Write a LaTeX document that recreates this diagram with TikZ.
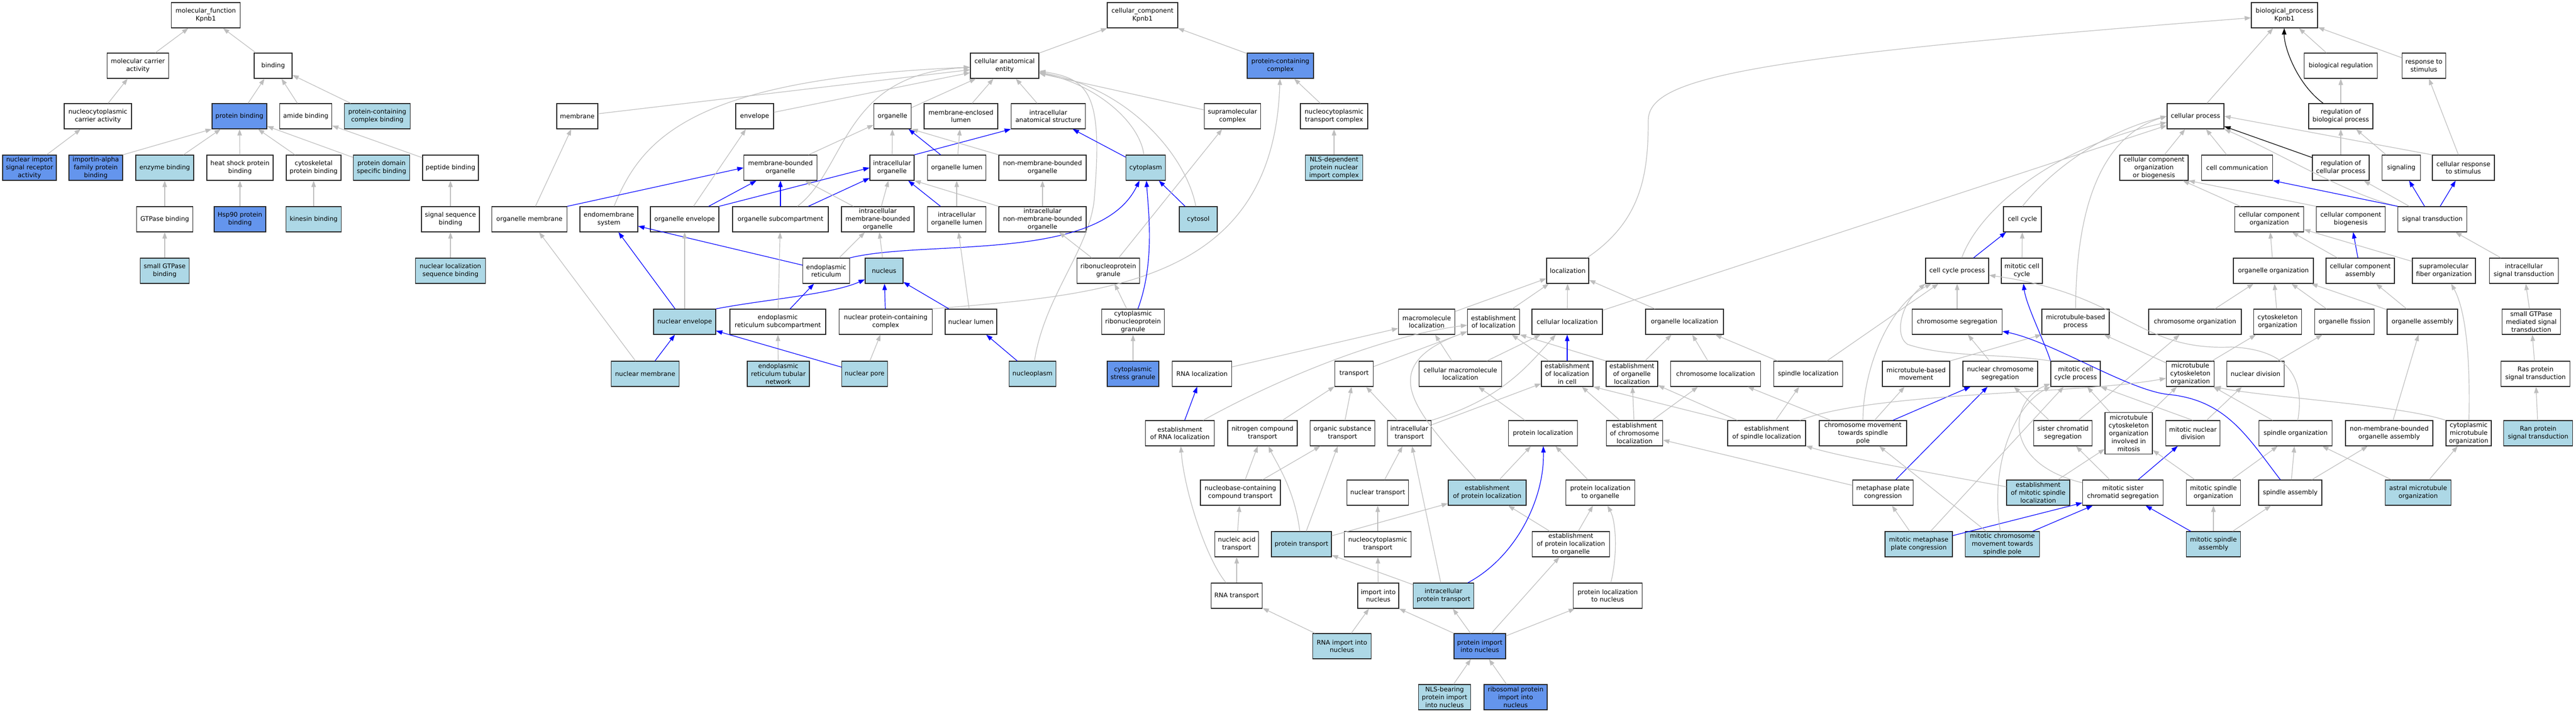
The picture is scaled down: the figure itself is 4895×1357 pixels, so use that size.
\documentclass[tikz,border=0pt]{standalone}
\usepackage{fontspec}
\usepackage{tikz}
\usetikzlibrary{arrows.meta}
\newfontfamily\termfam{DejaVu Sans}
\def\termfont{\termfam\fontsize{12}{14.8}\selectfont}
\definecolor{hitblue}{HTML}{ADD8E6}
\definecolor{seedblue}{HTML}{6495ED}
\definecolor{isagrey}{HTML}{BEBEBE}
\tikzset{
	goterm/.style={rectangle, draw=black!85, line width=1.2pt, fill=white, minimum height=48pt, inner sep=0pt, align=center, font=\termfont},
	hitterm/.style={goterm, fill=hitblue},
	seedterm/.style={goterm, fill=seedblue},
	isa/.style={draw=isagrey, line width=1.2pt, -{Triangle[length=12pt,width=8.5pt]}},
	partof/.style={isa, draw=blue},
	regby/.style={isa, draw=black}
}

\begin{document}
\begin{tikzpicture}[x=1pt, y=-1pt]
			%%%%% START %%%%%
			\useasboundingbox (0,0) rectangle (4895,1357);
			
			%%%%% molecular function
			\node[goterm, minimum width=131pt] (mf) at (391,29) {molecular\_function\\Kpnb1};
			\node[goterm, minimum width=117pt] (mca) at (262,125) {molecular carrier\\activity};
			\node[goterm, minimum width=72pt] (binding) at (519,125) {binding};
			\node[goterm, minimum width=128pt] (nca) at (186,221) {nucleocytoplasmic\\carrier activity};
			\node[seedterm, minimum width=104pt] (pb) at (455,221) {protein binding};
			\node[goterm, minimum width=99pt] (amideb) at (581,221) {amide binding};
			\node[hitterm, minimum width=125pt] (pccb) at (717,221) {protein-containing\\complex binding};
			\node[seedterm, minimum width=102pt] (nisra) at (56,319) {nuclear import\\signal receptor\\activity};
			\node[seedterm, minimum width=102pt] (iafpb) at (182,319) {importin-alpha\\family protein\\binding};
			\node[hitterm, minimum width=110pt] (enzb) at (313,319) {enzyme binding};
			\node[goterm, minimum width=126pt] (hspb) at (456,319) {heat shock protein\\binding};
			\node[goterm, minimum width=104pt] (cytskb) at (596,319) {cytoskeletal\\protein binding};
			\node[hitterm, minimum width=107pt] (pdsb) at (725,319) {protein domain\\specific binding};
			\node[goterm, minimum width=106pt] (peptb) at (856,319) {peptide binding};
			\node[goterm, minimum width=107pt] (gtpb) at (313,417) {GTPase binding};
			\node[seedterm, minimum width=98pt] (hsp90b) at (456,417) {Hsp90 protein\\binding};
			\node[hitterm, minimum width=105pt] (kinb) at (596,417) {kinesin binding};
			\node[goterm, minimum width=110pt] (ssb) at (856,417) {signal sequence\\binding};
			\node[hitterm, minimum width=93pt] (sgtpb) at (313,515) {small GTPase\\binding};
			\node[hitterm, minimum width=133pt] (nlsb) at (856,515) {nuclear localization\\sequence binding};
			
			%%%%% cellular component
			\node[goterm, minimum width=134pt] (cc) at (2171,29) {cellular\_component\\Kpnb1};
			\node[goterm, minimum width=130pt] (cae) at (1909,125) {cellular anatomical\\entity};
			\node[seedterm, minimum width=126pt] (pcc) at (2433,125) {protein-containing\\complex};
			\node[goterm, minimum width=78pt] (membrane) at (1097,221) {membrane};
			\node[goterm, minimum width=72pt] (envelope) at (1434,221) {envelope};
			\node[goterm, minimum width=71pt] (organelle) at (1696,221) {organelle};
			\node[goterm, minimum width=140pt] (mel) at (1826,221) {membrane-enclosed\\lumen};
			\node[goterm, minimum width=141pt] (ias) at (1992,221) {intracellular\\anatomical structure};
			\node[goterm, minimum width=107pt] (smc) at (2342,221) {supramolecular\\complex};
			\node[goterm, minimum width=128pt] (nctc) at (2535,221) {nucleocytoplasmic\\transport complex};
			\node[goterm, minimum width=139pt] (mbo) at (1483,319) {membrane-bounded\\organelle};
			\node[goterm, minimum width=84pt] (io) at (1695,319) {intracellular\\organelle};
			\node[goterm, minimum width=111pt] (ol) at (1818,319) {organelle lumen};
			\node[goterm, minimum width=166pt] (nmbo) at (1981,319) {non-membrane-bounded\\organelle};
			\node[hitterm, minimum width=75pt] (cytoplasm) at (2177,319) {cytoplasm};
			\node[hitterm, minimum width=109pt] (nlsc) at (2535,319) {NLS-dependent\\protein nuclear\\import complex};
			\node[goterm, minimum width=143pt] (om) at (1006,417) {organelle membrane};
			\node[goterm, minimum width=110pt] (ems) at (1157,417) {endomembrane\\system};
			\node[goterm, minimum width=130pt] (oe) at (1301,417) {organelle envelope};
			\node[goterm, minimum width=182pt] (osc) at (1483,417) {organelle subcompartment};
			\node[goterm, minimum width=138pt] (imbo) at (1668,417) {intracellular\\membrane-bounded\\organelle};
			\node[goterm, minimum width=111pt] (iol) at (1818,417) {intracellular\\organelle lumen};
			\node[goterm, minimum width=166pt] (inmbo) at (1981,417) {intracellular\\non-membrane-bounded\\organelle};
			\node[hitterm, minimum width=72pt] (cytosol) at (2277,417) {cytosol};
			\node[goterm, minimum width=89pt] (er) at (1570,515) {endoplasmic\\reticulum};
			\node[hitterm, minimum width=72pt] (nucleus) at (1680,515) {nucleus};
			\node[goterm, minimum width=119pt] (rnpg) at (2106,515) {ribonucleoprotein\\granule};
			\node[hitterm, minimum width=118pt] (ne) at (1301,612) {nuclear envelope};
			\node[goterm, minimum width=182pt] (ersc) at (1478,612) {endoplasmic\\reticulum subcompartment};
			\node[goterm, minimum width=177pt] (npcc) at (1683,612) {nuclear protein-containing\\complex};
			\node[goterm, minimum width=98pt] (nl) at (1845,612) {nuclear lumen};
			\node[goterm, minimum width=119pt] (crnpg) at (2153,612) {cytoplasmic\\ribonucleoprotein\\granule};
			\node[hitterm, minimum width=129pt] (nm) at (1226,711) {nuclear membrane};
			\node[hitterm, minimum width=118pt] (ertn) at (1479,711) {endoplasmic\\reticulum tubular\\network};
			\node[hitterm, minimum width=87pt] (np) at (1643,711) {nuclear pore};
			\node[hitterm, minimum width=89pt] (nucleoplasm) at (1962,711) {nucleoplasm};
			\node[seedterm, minimum width=98pt] (csg) at (2153,711) {cytoplasmic\\stress granule};
			
			%%%%% biological process
			\node[goterm, minimum width=126pt] (bp) at (4341,29) {biological\_process\\Kpnb1};
			\node[goterm, minimum width=139pt] (breg) at (4448,125) {biological regulation};
			\node[goterm, minimum width=83pt] (rts) at (4606,125) {response to\\stimulus};
			\node[goterm, minimum width=108pt] (cp) at (4172,221) {cellular process};
			\node[goterm, minimum width=122pt] (rbp) at (4448,221) {regulation of\\biological process};
			\node[goterm, minimum width=130pt] (ccob) at (4093,319) {cellular component\\organization\\or biogenesis};
			\node[goterm, minimum width=135pt] (ccomm) at (4251,319) {cell communication};
			\node[goterm, minimum width=108pt] (rcp) at (4448,319) {regulation of\\cellular process};
			\node[goterm, minimum width=73pt] (signaling) at (4563,319) {signaling};
			\node[goterm, minimum width=118pt] (crs) at (4681,319) {cellular response\\to stimulus};
			\node[goterm, minimum width=72pt] (cellcycle) at (3843,417) {cell cycle};
			\node[goterm, minimum width=131pt] (cco) at (4312,417) {cellular component\\organization};
			\node[goterm, minimum width=131pt] (ccb) at (4467,417) {cellular component\\biogenesis};
			\node[goterm, minimum width=131pt] (st) at (4622,417) {signal transduction};
			\node[goterm, minimum width=80pt] (localization) at (2979,515) {localization};
			\node[goterm, minimum width=120pt] (ccp) at (3719,515) {cell cycle process};
			\node[goterm, minimum width=78pt] (mcc) at (3842,515) {mitotic cell\\cycle};
			\node[goterm, minimum width=152pt] (oo) at (4320,515) {organelle organization};
			\node[goterm, minimum width=130pt] (cca) at (4485,515) {cellular component\\assembly};
			\node[goterm, minimum width=120pt] (sfo) at (4644,515) {supramolecular\\fiber organization};
			\node[goterm, minimum width=131pt] (ist) at (4796,515) {intracellular\\signal transduction};
			\node[goterm, minimum width=107pt] (ml) at (2711,612) {macromolecule\\localization};
			\node[goterm, minimum width=99pt] (eloc) at (2838,612) {establishment\\of localization};
			\node[goterm, minimum width=134pt] (cl) at (2978,612) {cellular localization};
			\node[goterm, minimum width=148pt] (orgloc) at (3201,612) {organelle localization};
			\node[goterm, minimum width=171pt] (cs) at (3719,612) {chromosome segregation};
			\node[goterm, minimum width=128pt] (mbp) at (3944,612) {microtubule-based\\process};
			\node[goterm, minimum width=176pt] (chro) at (4171,612) {chromosome organization};
			\node[goterm, minimum width=91pt] (cyto) at (4328,612) {cytoskeleton\\organization};
			\node[goterm, minimum width=113pt] (ofis) at (4455,612) {organelle fission};
			\node[goterm, minimum width=134pt] (oa) at (4603,612) {organelle assembly};
			\node[goterm, minimum width=111pt] (sgmst) at (4810,612) {small GTPase\\mediated signal\\transduction};
			
			\node[goterm, minimum width=113pt] (rnaloc) at (2284,711) {RNA localization};
			\node[goterm, minimum width=73pt] (transport) at (2573,711) {transport};
			\node[goterm, minimum width=157pt] (cml) at (2775,711) {cellular macromolecule\\localization};
			\node[goterm, minimum width=98pt] (elic) at (2978,711) {establishment\\of localization\\in cell};
			\node[goterm, minimum width=98pt] (eol) at (3101,711) {establishment\\of organelle\\localization};
			\node[goterm, minimum width=171pt] (chrloc) at (3260,711) {chromosome localization};
			\node[goterm, minimum width=131pt] (sploc) at (3436,711) {spindle localization};
			\node[goterm, minimum width=128pt] (mbm) at (3641,711) {microtubule-based\\movement};
			\node[goterm, minimum width=142pt] (ncs) at (3801,711) {nuclear chromosome\\segregation};
			\node[goterm, minimum width=94pt] (mccp) at (3944,711) {mitotic cell\\cycle process};
			\node[goterm, minimum width=91pt] (mco) at (4162,711) {microtubule\\cytoskeleton\\organization};
			\node[goterm, minimum width=109pt] (nd) at (4286,711) {nuclear division};
			\node[goterm, minimum width=131pt] (ras) at (4818,711) {Ras protein\\signal transduction};
			
			\node[goterm, minimum width=131pt] (erl) at (2242,824) {establishment\\of RNA localization};
			\node[goterm, minimum width=132pt] (nct) at (2399,824) {nitrogen compound\\transport};
			\node[goterm, minimum width=123pt] (ost) at (2551,824) {organic substance\\transport};
			\node[goterm, minimum width=83pt] (it) at (2678,824) {intracellular\\transport};
			\node[goterm, minimum width=131pt] (pl) at (2932,824) {protein localization};
			\node[goterm, minimum width=107pt] (ecl) at (3106,824) {establishment\\of chromosome\\localization};
			\node[goterm, minimum width=148pt] (esl) at (3357,824) {establishment\\of spindle localization};
			\node[goterm, minimum width=166pt] (cmtsp) at (3540,824) {chromosome movement\\towards spindle\\pole};
			\node[goterm, minimum width=111pt] (scs) at (3920,824) {sister chromatid\\segregation};
			\node[goterm, minimum width=90pt, minimum height=79pt] (mcoim) at (4045,824) {microtubule\\cytoskeleton\\organization\\involved in\\mitosis};
			\node[goterm, minimum width=103pt] (mnd) at (4167,824) {mitotic nuclear\\division};
			\node[goterm, minimum width=139pt] (spo) at (4362,824) {spindle organization};
			\node[goterm, minimum width=166pt] (nmboa) at (4540,824) {non-membrane-bounded\\organelle assembly};
			\node[goterm, minimum width=86pt] (cmo) at (4691,824) {cytoplasmic\\microtubule\\organization};
			\node[hitterm, minimum width=131pt] (ran) at (4823,824) {Ran protein\\signal transduction};
			
			\node[goterm, minimum width=152pt] (ncct) at (2357,937) {nucleobase-containing\\compound transport};
			\node[goterm, minimum width=117pt] (nt) at (2618,937) {nuclear transport};
			\node[hitterm, minimum width=148pt] (epl) at (2826,937) {establishment\\of protein localization};
			\node[goterm, minimum width=131pt] (plto) at (3041,937) {protein localization\\to organelle};
			\node[goterm, minimum width=115pt] (mpc) at (3578,937) {metaphase plate\\congression};
			\node[hitterm, minimum width=120pt] (emsl) at (3873,937) {establishment\\of mitotic spindle\\localization};
			\node[goterm, minimum width=153pt] (mscs) at (4034,937) {mitotic sister\\chromatid segregation};
			\node[goterm, minimum width=103pt] (mso) at (4206,937) {mitotic spindle\\organization};
			\node[goterm, minimum width=120pt] (spa) at (4352,937) {spindle assembly};
			\node[hitterm, minimum width=125pt] (amo) at (4595,937) {astral microtubule\\organization};
			
			\node[goterm, minimum width=83pt] (nat) at (2350,1035) {nucleic acid\\transport};
			\node[hitterm, minimum width=114pt] (pt) at (2473,1035) {protein transport};
			\node[goterm, minimum width=127pt] (nctr) at (2618,1035) {nucleocytoplasmic\\transport};
			\node[goterm, minimum width=147pt] (eplto) at (2985,1035) {establishment\\of protein localization\\to organelle};
			\node[hitterm, minimum width=128pt] (mmpc) at (3646,1035) {mitotic metaphase\\plate congression};
			\node[hitterm, minimum width=141pt] (mcmtsp) at (3805,1035) {mitotic chromosome\\movement towards\\spindle pole};
			\node[hitterm, minimum width=103pt] (msa) at (4206,1035) {mitotic spindle\\assembly};
			
			\node[goterm, minimum width=97pt] (rnat) at (2350,1133) {RNA transport};
			\node[goterm, minimum width=78pt] (iin) at (2619,1133) {import into\\nucleus};
			\node[hitterm, minimum width=115pt] (ipt) at (2743,1133) {intracellular\\protein transport};
			\node[goterm, minimum width=131pt] (pltn) at (3055,1133) {protein localization\\to nucleus};
			\node[hitterm, minimum width=111pt] (rnain) at (2550,1229) {RNA import into\\nucleus};
			\node[seedterm, minimum width=98pt] (pin) at (2812,1229) {protein import\\into nucleus};
			\node[hitterm, minimum width=99pt] (nlsbp) at (2745,1326) {NLS-bearing\\protein import\\into nucleus};
			\node[seedterm, minimum width=120pt] (rpin) at (2880,1326) {ribosomal protein\\import into\\nucleus};
			
			%%%%% molecular function edges
			\draw[isa] (mca) -- (mf);
			\draw[isa] (binding) -- (mf);
			\draw[isa] (nca) -- (mca);
			\draw[isa] (pb) -- (binding);
			\draw[isa] (amideb) -- (binding);
			\draw[isa] (pccb) -- (binding);
			\draw[isa] (nisra) -- (nca);
			\draw[isa] (iafpb.north east) -- (pb.south west);
			\draw[isa] (enzb) -- (pb);
			\draw[isa] (hspb) -- (pb);
			\draw[isa] (cytskb) -- (pb);
			\draw[isa] (pdsb) -- (pb);
			\draw[isa] (peptb) -- (amideb);
			\draw[isa] (gtpb) -- (enzb);
			\draw[isa] (hsp90b) -- (hspb);
			\draw[isa] (kinb) -- (cytskb);
			\draw[isa] (ssb) -- (peptb);
			\draw[isa] (sgtpb) -- (gtpb);
			\draw[isa] (nlsb) -- (ssb);
			
			%%%%% cellular component edges
			\draw[isa] (cae) -- (cc);
			\draw[isa] (pcc) -- (cc);
			\draw[isa] (membrane) -- (cae);
			\draw[isa] (envelope) -- (cae);
			\draw[isa] (organelle) -- (cae);
			\draw[isa] (mel) -- (cae);
			\draw[isa] (ias) -- (cae);
			\draw[isa] (smc) -- (cae);
			\draw[isa] (ems) .. controls (1220,260) and (1320,150) .. (cae);
			\draw[isa] (osc) .. controls (1610,320) and (1600,140) .. (cae);
			\draw[isa] (cytoplasm) .. controls (2165,230) and (2080,160) .. (cae);
			\draw[isa] (cytosol) .. controls (2255,300) and (2150,170) .. (cae);
			\draw[isa] (nucleoplasm) .. controls (1985,560) and (2075,470) .. (2080,370) .. controls (2095,180) and (2070,150) .. (cae);
			\draw[isa] (nctc) -- (pcc);
			\draw[isa] (nlsc) -- (nctc);
			\draw[isa] (mbo) -- (organelle);
			\draw[isa] (io) -- (organelle);
			\draw[partof] (io.north east) -- (ias.south west);
			\draw[partof] (ol) -- (organelle);
			\draw[isa] (ol) -- (mel);
			\draw[isa] (nmbo.north west) -- (organelle.south east);
			\draw[isa] (om) -- (membrane);
			\draw[partof] (om.north east) -- (mbo.west);
			\draw[isa] (oe) -- (envelope);
			\draw[partof] (oe) -- (mbo);
			\draw[partof] (oe.north east) -- (io.west);
			\draw[partof] (osc) -- (mbo);
			\draw[partof] (osc) -- (io);
			\draw[isa] (imbo) -- (mbo);
			\draw[isa] (imbo) -- (io);
			\draw[isa] (iol) -- (ol);
			\draw[partof] (iol) -- (io);
			\draw[isa] (inmbo) -- (nmbo);
			\draw[isa] (inmbo.north west) -- (io.south east);
			\draw[partof] (cytoplasm) -- (ias);
			\draw[partof] (cytosol) -- (cytoplasm);
			\draw[partof] (er) -- (ems);
			\draw[isa] (er) -- (imbo);
			\draw[partof] (er.north east) .. controls (1760,455) and (2090,500) .. (cytoplasm);
			\draw[isa] (nucleus) -- (imbo);
			\draw[isa] (rnpg) -- (inmbo);
			\draw[isa] (rnpg) -- (smc);
			\draw[partof] (ne) -- (ems);
			\draw[isa] (ne) -- (oe);
			\draw[partof] (ne.north east) .. controls (1450,570) and (1580,560) .. (nucleus);
			\draw[isa] (ersc) -- (osc);
			\draw[partof] (ersc) -- (er);
			\draw[partof] (npcc) -- (nucleus);
			\draw[isa] (npcc.north east) .. controls (2100,560) and (2420,540) .. (pcc);
			\draw[partof] (nl) -- (nucleus);
			\draw[isa] (nl) -- (iol);
			\draw[isa] (crnpg) -- (rnpg);
			\draw[partof] (crnpg) .. controls (2195,500) and (2182,400) .. (cytoplasm);
			\draw[isa] (nm) -- (om);
			\draw[partof] (nm) -- (ne);
			\draw[isa] (ertn) -- (ersc);
			\draw[partof] (np) -- (ne);
			\draw[isa] (np) -- (npcc);
			\draw[partof] (nucleoplasm) -- (nl);
			\draw[isa] (csg) -- (crnpg);
			
			%%%%% biological process edges
			\draw[isa] (cp) -- (bp);
			\draw[regby] (rbp) .. controls (4365,160) and (4340,90) .. (bp);
			\draw[isa] (breg) -- (bp);
			\draw[isa] (rts) -- (bp);
			\draw[isa] (localization) .. controls (3120,420) and (3132,330) .. (3132,230) .. controls (3132,150) and (3300,110) .. (bp);
			\draw[isa] (rbp) -- (breg);
			\draw[isa] (ccob) -- (cp);
			\draw[isa] (ccomm) -- (cp);
			\draw[regby] (rcp) -- (cp);
			\draw[isa] (rcp) -- (rbp);
			\draw[isa] (signaling) -- (rbp);
			\draw[isa] (crs.north west) -- (cp.east);
			\draw[isa] (crs) -- (rts);
			\draw[isa] (cellcycle.north) .. controls (3900,320) and (4000,250) .. (cp.west);
			\draw[isa] (ccp) .. controls (3760,400) and (3900,280) .. (cp);
			\draw[isa] (mbp) .. controls (3945,400) and (3990,260) .. (cp.west);
			\draw[isa] (cl) -- (cp);
			\draw[isa] (st.north west) .. controls (4460,370) and (4330,290) .. (cp.south east);
			\draw[isa] (cco) -- (ccob);
			\draw[isa] (ccb.north west) -- (ccob.south east);
			\draw[partof] (st.north west) -- (ccomm.south east);
			\draw[partof] (st) -- (signaling);
			\draw[partof] (st) -- (crs);
			\draw[isa] (st) -- (rcp);
			\draw[isa] (ist) -- (st);
			\draw[isa] (sgmst) -- (ist);
			\draw[isa] (ras) -- (sgmst);
			\draw[isa] (ran) -- (ras);
			\draw[isa] (oo) -- (cco);
			\draw[partof] (cca) -- (ccb);
			\draw[isa] (cca) -- (cco);
			\draw[isa] (sfo) -- (cco);
			\draw[isa] (chro) -- (oo);
			\draw[isa] (cyto) -- (oo);
			\draw[isa] (ofis) -- (oo);
			\draw[isa] (oa) -- (oo);
			\draw[isa] (oa) -- (cca);
			\draw[partof] (ccp) -- (cellcycle);
			\draw[isa] (mcc) -- (cellcycle);
			\draw[isa] (cs) -- (ccp);
			\draw[isa] (mbm.north east) -- (mbp.south west);
			\draw[isa] (mco) -- (mbp);
			\draw[isa] (mco) -- (cyto);
			\draw[isa] (ncs) -- (cs);
			\draw[partof] (mccp.north west) .. controls (3885,650) and (3850,580) .. (mcc);
			\draw[isa] (mccp.north west) .. controls (3800,672) and (3700,680) .. (3625,655) .. controls (3600,640) and (3610,580) .. (ccp.south west);
			\draw[isa] (nd) -- (ofis);
			\draw[isa] (scs) -- (ncs);
			\draw[isa] (scs) -- (chro);
			\draw[isa] (mcoim) -- (mccp);
			\draw[isa] (mcoim) -- (mco);
			\draw[isa] (mnd.north) -- (mccp.south east);
			\draw[isa] (mnd) -- (nd);
			\draw[isa] (spo) -- (mco);
			\draw[isa] (spo) .. controls (4380,720) and (4350,665) .. (4240,660) .. controls (4060,668) and (4040,560) .. (ccp);
			\draw[isa] (nmboa) -- (oa);
			\draw[isa] (cmo.north west) .. controls (4560,770) and (4300,755) .. (mco.south east);
			\draw[isa] (cmo) .. controls (4695,650) and (4680,580) .. (sfo);
			\draw[isa] (mpc) -- (ecl);
			\draw[partof] (mpc) -- (ncs);
			\draw[isa] (emsl) .. controls (3700,905) and (3500,870) .. (esl);
			\draw[isa] (emsl) -- (mcoim);
			\draw[isa] (mscs) .. controls (3800,880) and (3820,760) .. (mccp);
			\draw[isa] (mscs) -- (scs);
			\draw[partof] (mscs) -- (mnd);
			\draw[isa] (mso) -- (spo);
			\draw[isa] (mso) -- (mcoim);
			\draw[isa] (spa) -- (spo);
			\draw[isa] (spa) -- (nmboa);
			\draw[partof] (spa) .. controls (4270,830) and (4230,760) .. (4118,750) .. controls (4040,740) and (3900,650) .. (cs);
			\draw[isa] (amo) -- (spo);
			\draw[isa] (amo) -- (cmo);
			\draw[isa] (mmpc) -- (mpc);
			\draw[partof] (mmpc) -- (mscs);
			\draw[isa] (mmpc) -- (mccp);
			\draw[isa] (mcmtsp) -- (cmtsp);
			\draw[partof] (mcmtsp) -- (mscs);
			\draw[isa] (mcmtsp) .. controls (3780,880) and (3830,770) .. (mccp);
			\draw[isa] (msa) -- (mso);
			\draw[isa] (msa) -- (spa);
			\draw[partof] (msa) -- (mscs);
			\draw[isa] (cmtsp) -- (chrloc);
			\draw[isa] (cmtsp) -- (mbm);
			\draw[partof] (cmtsp) -- (ncs);
			\draw[isa] (cmtsp) .. controls (3540,700) and (3590,580) .. (ccp);
			\draw[isa] (sploc) -- (orgloc);
			\draw[isa] (sploc) -- (ccp);
			\draw[isa] (esl) -- (sploc);
			\draw[isa] (esl) -- (eol);
			\draw[isa] (esl.north west) -- (elic.south east);
			\draw[isa] (esl) .. controls (3560,745) and (3950,750) .. (mco);
			\draw[isa] (chrloc) -- (orgloc);
			\draw[isa] (ecl) -- (chrloc);
			\draw[isa] (ecl) -- (eol);
			\draw[isa] (ecl) -- (elic);
			\draw[isa] (eol) -- (orgloc);
			\draw[isa] (eol.north west) -- (eloc.south east);
			
			%%%%% localization and transport edges
			\draw[isa] (ml) -- (localization);
			\draw[isa] (eloc) -- (localization);
			\draw[isa] (cl) -- (localization);
			\draw[isa] (orgloc) -- (localization);
			\draw[isa] (rnaloc) -- (ml);
			\draw[isa] (cml) -- (ml);
			\draw[isa] (cml) -- (cl);
			\draw[partof] (elic) -- (cl);
			\draw[isa] (elic) -- (eloc);
			\draw[isa] (transport) -- (eloc);
			\draw[isa] (erl) .. controls (2420,725) and (2620,640) .. (eloc);
			\draw[partof] (erl) -- (rnaloc);
			\draw[isa] (nct) -- (transport);
			\draw[isa] (ost) -- (transport);
			\draw[isa] (it) -- (transport);
			\draw[isa] (it.north east) .. controls (2850,760) and (2900,700) .. (cl);
			\draw[isa] (it) -- (elic);
			\draw[isa] (pl) -- (cml);
			\draw[isa] (epl) -- (pl);
			\draw[isa] (epl) .. controls (2700,790) and (2600,700) .. (eloc);
			\draw[isa] (ncct) -- (nct);
			\draw[isa] (ncct) -- (ost);
			\draw[isa] (nt) -- (it);
			\draw[isa] (nat) -- (ncct);
			\draw[isa] (pt) .. controls (2460,930) and (2425,880) .. (nct);
			\draw[isa] (pt) -- (ost);
			\draw[isa] (pt) -- (epl);
			\draw[isa] (nctr) -- (nt);
			\draw[isa] (plto) -- (pl);
			\draw[isa] (eplto) -- (epl);
			\draw[isa] (eplto) -- (plto);
			\draw[isa] (rnat) -- (nat);
			\draw[isa] (rnat) .. controls (2290,1060) and (2250,930) .. (erl);
			\draw[isa] (iin) -- (nctr);
			\draw[isa] (ipt) -- (it);
			\draw[partof] (ipt) .. controls (2880,1060) and (2935,950) .. (pl);
			\draw[isa] (ipt) -- (pt);
			\draw[isa] (pltn) .. controls (3075,1050) and (3070,990) .. (plto);
			\draw[isa] (rnain) -- (rnat);
			\draw[isa] (rnain) -- (iin);
			\draw[isa] (pin.north west) -- (iin.south east);
			\draw[isa] (pin) -- (ipt);
			\draw[isa] (pin) -- (eplto);
			\draw[isa] (pin) -- (pltn);
			\draw[isa] (nlsbp) -- (pin);
			\draw[isa] (rpin) -- (pin);
			
			%%%%% END %%%%%
\end{tikzpicture}
\end{document}
